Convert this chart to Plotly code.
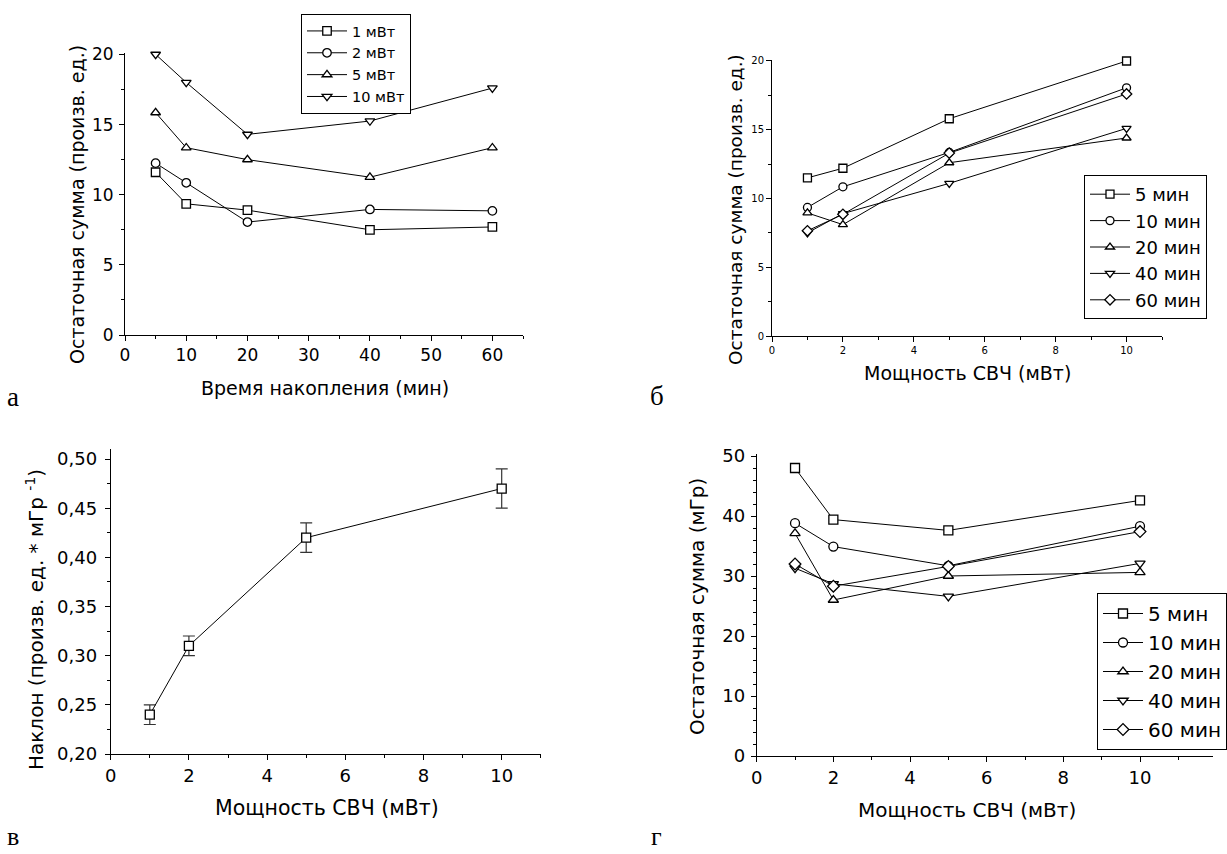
import plotly.graph_objects as go

W, H = 1227, 854

# ---------------- data ----------------
# panel а: residual sum vs accumulation time, per microwave power
time_min = [5, 10, 20, 40, 60]
a_1mW = [11.6, 9.35, 8.9, 7.5, 7.7]
a_2mW = [12.25, 10.85, 8.05, 8.95, 8.85]
a_5mW = [15.85, 13.35, 12.5, 11.25, 13.35]
a_10mW = [20.0, 18.0, 14.3, 15.25, 17.6]
a_names = ["1 мВт", "2 мВт", "5 мВт", "10 мВт"]

# panel б: residual sum vs microwave power, per accumulation time
power_mW = [1, 2, 5, 10]
b_5 = [11.5, 12.2, 15.8, 20.0]
b_10 = [9.35, 10.85, 13.35, 18.05]
b_20 = [8.95, 8.1, 12.6, 14.4]
b_40 = [7.5, 8.9, 11.1, 15.1]
b_60 = [7.65, 8.85, 13.3, 17.6]
time_names = ["5 мин", "10 мин", "20 мин", "40 мин", "60 мин"]

# panel в: slope vs power
c_slope = [0.24, 0.31, 0.42, 0.47]
c_err = [0.01, 0.01, 0.015, 0.02]

# panel г: residual sum (мГр) vs power
d_5 = [48.0, 39.4, 37.6, 42.6]
d_10 = [38.8, 34.9, 31.7, 38.3]
d_20 = [37.1, 26.0, 30.0, 30.6]
d_40 = [31.3, 28.7, 26.6, 32.1]
d_60 = [32.0, 28.3, 31.6, 37.4]

symbols_a = ["square", "circle", "triangle-up", "triangle-down"]
symbols_t = ["square", "circle", "triangle-up", "triangle-down", "diamond"]

SANS = "'DejaVu Sans', Arial, sans-serif"
SERIF = "'Liberation Serif', 'Times New Roman', serif"


def px_x(p):
    return p / W


def px_y(p):
    return 1 - p / H


fig = go.Figure()


def add_series(x, y, name, symbol, xa, ya, legend, size):
    fig.add_trace(go.Scatter(
        x=x, y=y, name=name, mode="lines+markers", cliponaxis=False,
        line=dict(color="black", width=1),
        marker=dict(symbol=symbol, size=size, color="white",
                    line=dict(color="black", width=1.3)),
        xaxis=xa, yaxis=ya, legend=legend, showlegend=True,
    ))


for ys, nm, sy in zip([a_1mW, a_2mW, a_5mW, a_10mW], a_names, symbols_a):
    add_series(time_min, ys, nm, sy, "x", "y", "legend", 8.5)

for ys, nm, sy in zip([b_5, b_10, b_20, b_40, b_60], time_names, symbols_t):
    add_series(power_mW, ys, nm, sy, "x2", "y2", "legend2", 8)

fig.add_trace(go.Scatter(
    x=power_mW, y=c_slope, mode="lines+markers", showlegend=False,
    cliponaxis=False,
    line=dict(color="black", width=1),
    marker=dict(symbol="square", size=9, color="white",
                line=dict(color="black", width=1.3)),
    error_y=dict(type="data", array=c_err, visible=True, color="#333333",
                 thickness=1.2, width=6),
    xaxis="x3", yaxis="y3",
))

for ys, nm, sy in zip([d_5, d_10, d_20, d_40, d_60], time_names, symbols_t):
    add_series(power_mW, ys, nm, sy, "x4", "y4", "legend3", 9)


def axis(domain, rng, dtick, minor_dtick, fsize, anchor, fmt=None, standoff=0):
    d = dict(domain=domain, range=rng, dtick=dtick, tick0=0,
             showline=True, linecolor="black", linewidth=1, mirror=False,
             ticks="outside", ticklen=5, tickwidth=1, tickcolor="black",
             showgrid=False, zeroline=False, anchor=anchor, automargin=False,
             ticklabelstandoff=standoff,
             tickfont=dict(family=SANS, size=fsize, color="black"),
             minor=dict(dtick=minor_dtick, ticks="outside", ticklen=3,
                        tickwidth=1, tickcolor="black", showgrid=False))
    if fmt:
        d["tickformat"] = fmt
    return d


def legend(x, y, size):
    return dict(x=px_x(x), y=px_y(y), xanchor="left", yanchor="top",
                bgcolor="white", bordercolor="black", borderwidth=1,
                font=dict(family=SANS, size=size, color="black"),
                itemwidth=40)


layout = dict(
    width=W, height=H,
    margin=dict(l=0, r=0, t=0, b=0, pad=0, autoexpand=False),
    paper_bgcolor="white", plot_bgcolor="white",
    separators=",.",
    font=dict(family=SANS, color="black"),
    # panel а
    xaxis=axis([px_x(125), px_x(523)], [0, 65], 10, 5, 17, "y"),
    yaxis=axis([px_y(335), px_y(53)], [0, 20.1], 5, 2.5, 17, "x", standoff=2),
    # panel б
    xaxis2=axis([px_x(772), px_x(1162)], [0, 11], 2, 1, 10, "y2"),
    yaxis2=axis([px_y(336), px_y(59.6)], [0, 20.1], 5, 2.5, 10, "x2"),
    # panel в
    xaxis3=axis([px_x(110.7), px_x(540.8)], [0, 11], 2, 1, 18, "y3"),
    yaxis3=axis([px_y(754), px_y(449.2)], [0.2, 0.51], 0.05, 0.025, 18, "x3",
                ".2f", standoff=4),
    # panel г
    xaxis4=axis([px_x(756.7), px_x(756.7 + 11.9 * 38.33)], [0, 11.9], 2, 1, 18, "y4"),
    yaxis4=axis([px_y(756), px_y(454.2)], [0, 50.3], 10, 2, 18, "x4", standoff=2),
    legend=legend(301, 14, 14.5),
    legend2=legend(1084, 175, 18),
    legend3=legend(1097, 593, 20),
)
fig.update_layout(**layout)

ann = []


def text(x, y, s, size, family=SANS, angle=0, yanchor="middle"):
    ann.append(dict(x=px_x(x), y=px_y(y), xref="paper", yref="paper",
                    text=s, showarrow=False, textangle=angle,
                    xanchor="center", yanchor=yanchor,
                    font=dict(family=family, size=size, color="black")))


# axis titles
text(325, 388, "Время накопления (мин)", 19)
text(77, 205, "Остаточная сумма (произв. ед.)", 19, angle=-90)
text(967, 373, "Мощность СВЧ (мВт)", 19)
text(735, 210, "Остаточная сумма (произв. ед.)", 18.5, angle=-90)
text(327, 808, "Мощность СВЧ (мВт)", 20.5)
text(35, 620, "Наклон (произв. ед. * мГр <sup>-1</sup>)", 20, angle=-90)
text(967, 810, "Мощность СВЧ (мВт)", 20)
text(697, 607, "Остаточная сумма (мГр)", 20, angle=-90)

# panel letters
text(13, 397, "а", 27, SERIF)
text(657, 396, "б", 27, SERIF)
text(13, 853, "в", 26, SERIF, yanchor="bottom")
text(656, 853, "г", 26, SERIF, yanchor="bottom")

fig.update_layout(annotations=ann)
fig.write_html("out.html", config={"displayModeBar": False},
               post_script="document.body.style.margin='0';document.body.style.overflow='hidden';")
